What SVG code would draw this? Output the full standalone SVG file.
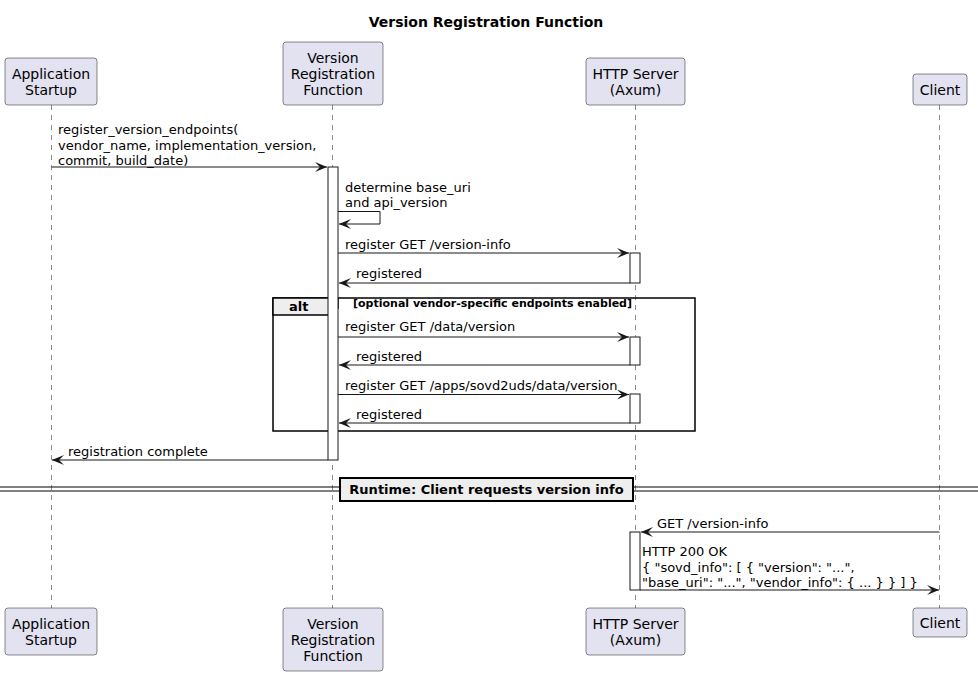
<svg xmlns="http://www.w3.org/2000/svg" width="978" height="676" viewBox="0 0 978 676">
<defs>
<style>
text{font-family:"DejaVu Sans",Verdana,sans-serif;fill:#000}
.p rect{fill:#E2E2F0;stroke:#181818;stroke-width:0.5}
.p text{font-size:14px;text-anchor:middle}
.life{stroke:#181818;stroke-width:0.5;stroke-dasharray:5,5}
.act{fill:#fff;stroke:#181818;stroke-width:1}
.msg line,.msg polyline{stroke:#181818;stroke-width:1;fill:none}
.m{font-size:13px}
</style>
<marker id="ah" viewBox="0 0 12 10" refX="12" refY="5" markerWidth="12" markerHeight="10" markerUnits="userSpaceOnUse" orient="auto">
<path d="M0,0 L12,5 L0,10 L5,5 Z" fill="#181818"/>
</marker>
</defs>
<rect width="978" height="676" fill="#fff"/>
<text x="486" y="27" font-size="14" font-weight="bold" text-anchor="middle">Version Registration Function</text>

<g id="lifelines">
<line class="life" x1="51.5" y1="105" x2="51.5" y2="608"/>
<line class="life" x1="332.5" y1="105" x2="332.5" y2="608"/>
<line class="life" x1="635.5" y1="105" x2="635.5" y2="608"/>
<line class="life" x1="939.5" y1="105" x2="939.5" y2="608"/>
</g>

<g id="p-app" class="p">
<rect x="5" y="58" width="92" height="47" rx="3"/>
<text x="51" y="79">Application</text><text x="51" y="95">Startup</text>
<rect x="5" y="608" width="92" height="47" rx="3"/>
<text x="51" y="629">Application</text><text x="51" y="645">Startup</text>
</g>
<g id="p-vrf" class="p">
<rect x="283" y="42" width="100" height="63" rx="3"/>
<text x="333" y="63">Version</text><text x="333" y="79">Registration</text><text x="333" y="95">Function</text>
<rect x="283" y="608" width="100" height="63" rx="3"/>
<text x="333" y="629">Version</text><text x="333" y="645">Registration</text><text x="333" y="661">Function</text>
</g>
<g id="p-http" class="p">
<rect x="586" y="58" width="99" height="47" rx="3"/>
<text x="635.5" y="79">HTTP Server</text><text x="635.5" y="95">(Axum)</text>
<rect x="586" y="608" width="99" height="47" rx="3"/>
<text x="635.5" y="629">HTTP Server</text><text x="635.5" y="645">(Axum)</text>
</g>
<g id="p-client" class="p">
<rect x="913" y="74" width="54" height="31" rx="3"/>
<text x="940" y="95">Client</text>
<rect x="913" y="608" width="54" height="29" rx="3"/>
<text x="940" y="628">Client</text>
</g>

<g id="alt-frame">
<rect x="273" y="298" width="422" height="133" fill="none" stroke="#000" stroke-width="1.5"/>
<path d="M273,298 L338,298 L338,308 L328,315 L273,315 Z" fill="#EEEEEE" stroke="#000" stroke-width="1.5"/>
<text x="289" y="311" font-size="13" font-weight="bold">alt</text>
<text x="353" y="307" font-size="11" font-weight="bold">[optional vendor-specific endpoints enabled]</text>
</g>

<g id="activations">
<rect class="act" x="328" y="167" width="10" height="293"/>
<rect class="act" x="630" y="253" width="10" height="30"/>
<rect class="act" x="630" y="337" width="10" height="28"/>
<rect class="act" x="630" y="394" width="10" height="29"/>
<rect class="act" x="630" y="532" width="10" height="58"/>
</g>

<g id="connectors" class="msg">
<line x1="51.5" y1="167" x2="327" y2="167" marker-end="url(#ah)"/>
<text class="m" x="58" y="134">register_version_endpoints(</text>
<text class="m" x="58" y="150">vendor_name, implementation_version,</text>
<text class="m" x="58" y="165">commit, build_date)</text>

<polyline points="338,211.5 380,211.5 380,224 339,224" marker-end="url(#ah)"/>
<text class="m" x="345" y="192">determine base_uri</text>
<text class="m" x="345" y="207">and api_version</text>

<line x1="338" y1="253" x2="629" y2="253" marker-end="url(#ah)"/>
<text class="m" x="345" y="249">register GET /version-info</text>
<line x1="630" y1="283" x2="339" y2="283" marker-end="url(#ah)"/>
<text class="m" x="356" y="278">registered</text>

<line x1="338" y1="337" x2="629" y2="337" marker-end="url(#ah)"/>
<text class="m" x="345" y="331">register GET /data/version</text>
<line x1="630" y1="365" x2="339" y2="365" marker-end="url(#ah)"/>
<text class="m" x="356" y="361">registered</text>

<line x1="338" y1="394.5" x2="629" y2="394.5" marker-end="url(#ah)"/>
<text class="m" x="345" y="390">register GET /apps/sovd2uds/data/version</text>
<line x1="630" y1="423" x2="339" y2="423" marker-end="url(#ah)"/>
<text class="m" x="356" y="419">registered</text>

<line x1="328" y1="460" x2="52" y2="460" marker-end="url(#ah)"/>
<text class="m" x="68" y="456">registration complete</text>

<line x1="939.5" y1="532" x2="641" y2="532" marker-end="url(#ah)"/>
<text class="m" x="657" y="528">GET /version-info</text>
<line x1="640" y1="590" x2="939" y2="590" marker-end="url(#ah)"/>
<text class="m" x="642" y="556">HTTP 200 OK</text>
<text class="m" x="642" y="572">{ "sovd_info": [ { "version": "...",</text>
<text class="m" x="642" y="587">"base_uri": "...", "vendor_info": { ... } } ] }</text>
</g>

<g id="divider">
<line x1="0" y1="487" x2="978" y2="487" stroke="#000" stroke-width="1"/>
<line x1="0" y1="491" x2="978" y2="491" stroke="#000" stroke-width="1"/>
<rect x="340" y="478" width="293" height="23" fill="#EEEEEE" stroke="#000" stroke-width="2"/>
<text x="486.5" y="494" font-size="13" font-weight="bold" text-anchor="middle">Runtime: Client requests version info</text>
</g>
</svg>
